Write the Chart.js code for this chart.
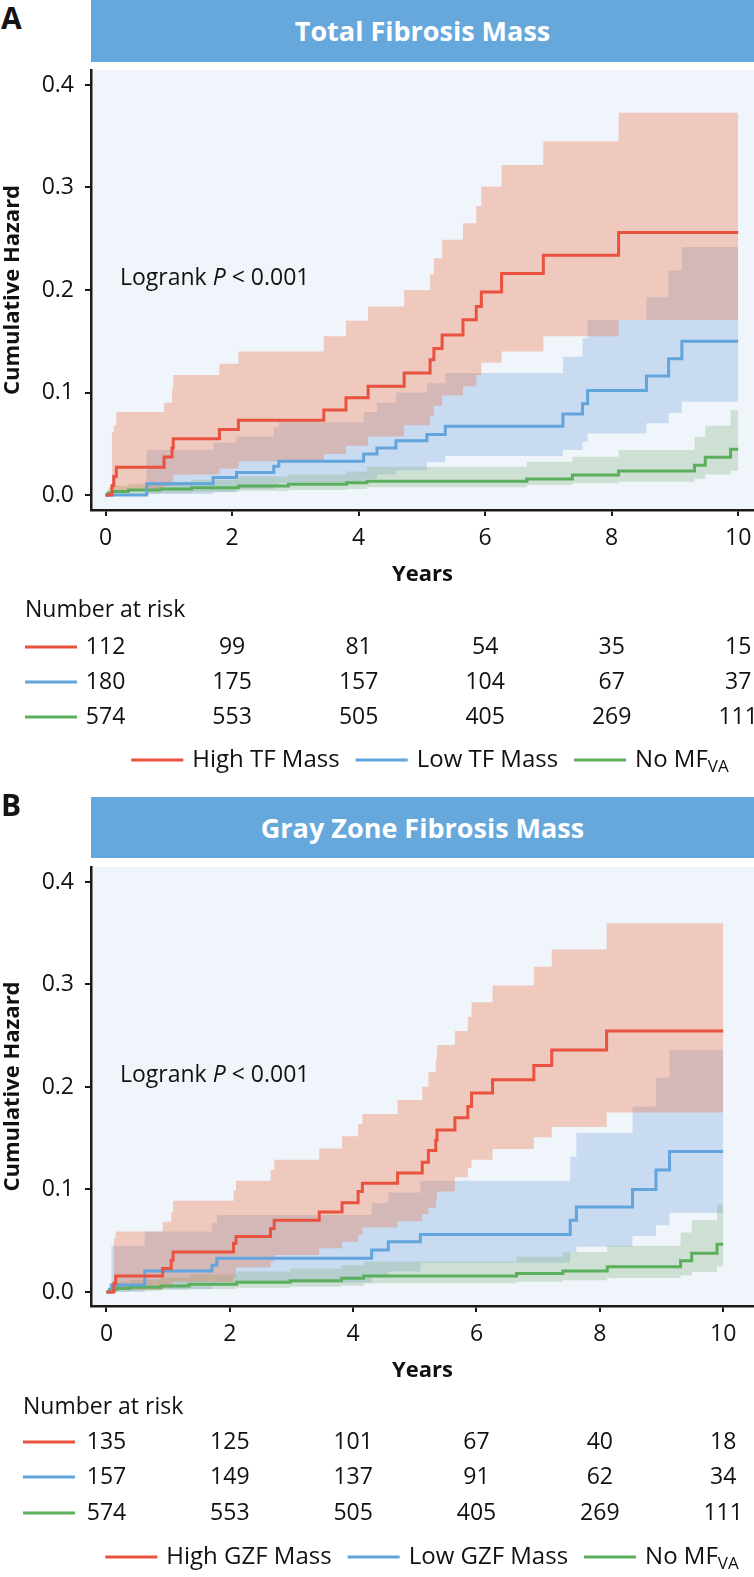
<!DOCTYPE html>
<html>
<head>
<meta charset="utf-8">
<script src="https://cdn.jsdelivr.net/npm/chart.js@4.4.1/dist/chart.umd.min.js"></script>
<style>
  body { margin: 0; background: #fff; font-family: "Open Sans", sans-serif; }
  #page { position: relative; width: 754px; height: 1577px; overflow: hidden; }
  .band { position: absolute; left: 91px; width: 663px; background: #67a8dc; color: #fff;
          font-weight: bold; font-size: 27px; text-align: center; }
  .tag { position: absolute; left: 1px; font-weight: bold; font-size: 30px; color: #141414; line-height: normal; }
  canvas { position: absolute; left: 0; }
</style>
</head>
<body>
<div id="page">
  <div class="tag" style="top:-3px">A</div>
  <div class="band" style="top:0;height:62px;line-height:62px">Total Fibrosis Mass</div>
  <canvas id="chartA" width="754" height="735" style="top:62px"></canvas>
  <div class="tag" style="top:784px">B</div>
  <div class="band" style="top:797px;height:61px;line-height:61px">Gray Zone Fibrosis Mass</div>
  <canvas id="chartB" width="754" height="719" style="top:858px"></canvas>
</div>
<script>
// tick labels
const xTicks = [0, 2, 4, 6, 8, 10];
const yTicks = [0, 0.1, 0.2, 0.3, 0.4];

// Panel A - total fibrosis mass
const aHighTime  = [0, 0.1, 0.13, 0.17, 0.925, 1.05, 1.07, 1.8, 2.1, 3.45, 3.8, 4.15, 4.72, 5.13, 5.19, 5.32, 5.65, 5.86, 5.94, 6.26, 6.92, 8.11, 10];
const aHighHaz   = [0, 0.009, 0.018, 0.027, 0.037, 0.046, 0.055, 0.064, 0.073, 0.083, 0.095, 0.106, 0.119, 0.132, 0.143, 0.156, 0.171, 0.184, 0.198, 0.216, 0.234, 0.256, 0.256];
const aHighUpper = [0, 0.061, 0.068, 0.081, 0.090, 0.104, 0.117, 0.128, 0.140, 0.155, 0.170, 0.184, 0.200, 0.215, 0.231, 0.249, 0.265, 0.282, 0.301, 0.322, 0.345, 0.373, 0.373];
const aHighLower = [0, 0.001, 0.003, 0.005, 0.009, 0.014, 0.020, 0.026, 0.033, 0.040, 0.048, 0.057, 0.068, 0.077, 0.087, 0.097, 0.106, 0.117, 0.129, 0.140, 0.155, 0.171, 0.171];

const aLowTime  = [0, 0.65, 1.7, 2.07, 2.66, 2.74, 4.08, 4.29, 4.59, 5.08, 5.37, 7.23, 7.54, 7.62, 8.55, 8.9, 9.11, 10];
const aLowHaz   = [0, 0.011, 0.017, 0.022, 0.028, 0.033, 0.040, 0.046, 0.053, 0.059, 0.067, 0.079, 0.089, 0.102, 0.116, 0.133, 0.150, 0.150];
const aLowUpper = [0, 0.044, 0.051, 0.057, 0.066, 0.071, 0.081, 0.090, 0.100, 0.109, 0.119, 0.135, 0.153, 0.171, 0.193, 0.219, 0.242, 0.242];
const aLowLower = [0, 0.001, 0.003, 0.006, 0.009, 0.012, 0.016, 0.020, 0.024, 0.032, 0.038, 0.044, 0.052, 0.060, 0.070, 0.080, 0.091, 0.091];

const aNoneTime  = [0, 0.04, 0.1, 0.36, 0.86, 1.36, 2.1, 2.89, 3.81, 4.13, 6.66, 7.38, 8.11, 9.31, 9.48, 9.88, 10];
const aNoneHaz   = [0, 0.002, 0.0035, 0.005, 0.006, 0.0072, 0.0088, 0.0104, 0.012, 0.0135, 0.0156, 0.0195, 0.0234, 0.029, 0.0368, 0.0446, 0.0446];
const aNoneUpper = [0, 0.007, 0.009, 0.011, 0.013, 0.015, 0.018, 0.020, 0.023, 0.0275, 0.0325, 0.0374, 0.044, 0.0566, 0.0676, 0.083, 0.083];
const aNoneLower = [0, 0, 0.0005, 0.001, 0.002, 0.003, 0.004, 0.005, 0.006, 0.0075, 0.0098, 0.0114, 0.013, 0.016, 0.020, 0.0237, 0.0237];

const aRiskHigh = [112, 99, 81, 54, 35, 15];
const aRiskLow  = [180, 175, 157, 104, 67, 37];
const aRiskNone = [574, 553, 505, 405, 269, 111];
const aNames = ['High TF Mass', 'Low TF Mass', 'No MF'];

// Panel B - gray zone fibrosis mass
const bHighTime  = [0, 0.12, 0.15, 0.91, 1.05, 1.08, 2.06, 2.1, 2.66, 2.72, 3.45, 3.82, 4.08, 4.15, 4.72, 5.12, 5.22, 5.34, 5.36, 5.65, 5.86, 5.92, 6.26, 6.93, 7.22, 8.11, 10];
const bHighHaz   = [0, 0.0085, 0.0156, 0.023, 0.031, 0.039, 0.0475, 0.054, 0.062, 0.070, 0.078, 0.087, 0.098, 0.106, 0.116, 0.1265, 0.138, 0.148, 0.158, 0.170, 0.181, 0.194, 0.207, 0.221, 0.236, 0.2546, 0.2546];
const bHighUpper = [0, 0.052, 0.059, 0.0686, 0.078, 0.089, 0.099, 0.1086, 0.119, 0.129, 0.140, 0.152, 0.1636, 0.1737, 0.1873, 0.2003, 0.2143, 0.2273, 0.241, 0.2546, 0.2686, 0.2826, 0.299, 0.3174, 0.334, 0.3597, 0.3597];
const bHighLower = [0, 0.001, 0.002, 0.004, 0.007, 0.010, 0.014, 0.024, 0.030, 0.036, 0.0426, 0.049, 0.0556, 0.063, 0.069, 0.076, 0.082, 0.090, 0.098, 0.112, 0.121, 0.129, 0.1395, 0.151, 0.161, 0.175, 0.175];

const bLowTime  = [0, 0.08, 0.62, 1.71, 1.79, 4.3, 4.57, 5.09, 7.52, 7.62, 8.53, 8.91, 9.13, 10];
const bLowHaz   = [0, 0.0068, 0.0205, 0.026, 0.033, 0.041, 0.049, 0.056, 0.070, 0.083, 0.100, 0.119, 0.137, 0.137];
const bLowUpper = [0, 0.045, 0.059, 0.067, 0.075, 0.0865, 0.097, 0.1086, 0.132, 0.155, 0.181, 0.209, 0.236, 0.236];
const bLowLower = [0, 0, 0.003, 0.006, 0.009, 0.014, 0.020, 0.0286, 0.039, 0.044, 0.0546, 0.065, 0.077, 0.077];

const bNoneTime  = [0, 0.05, 0.17, 0.38, 0.88, 1.34, 2.11, 2.98, 3.81, 4.17, 6.65, 7.4, 8.12, 9.31, 9.49, 9.9, 10];
const bNoneHaz   = [0, 0.0026, 0.0036, 0.0046, 0.0058, 0.0075, 0.0094, 0.011, 0.0133, 0.0156, 0.018, 0.0205, 0.0247, 0.0305, 0.0377, 0.0465, 0.0465];
const bNoneUpper = [0, 0.008, 0.010, 0.012, 0.014, 0.017, 0.020, 0.023, 0.026, 0.0296, 0.0344, 0.039, 0.045, 0.058, 0.070, 0.085, 0.085];
const bNoneLower = [0, 0, 0.0005, 0.001, 0.002, 0.003, 0.004, 0.005, 0.006, 0.0085, 0.010, 0.0114, 0.0137, 0.016, 0.0195, 0.025, 0.025];

const bRiskHigh = [135, 125, 101, 67, 40, 18];
const bRiskLow  = [157, 149, 137, 91, 62, 34];
const bRiskNone = [574, 553, 505, 405, 269, 111];
const bNames = ['High GZF Mass', 'Low GZF Mass', 'No MF'];

const family = '"Open Sans", "DejaVu Sans", sans-serif';
const ink = '#111111';
const redLine = '#e8523e', blueLine = '#62a4dc', greenLine = '#5aae5c';
const redBand = 'rgba(237,98,51,0.3)', blueBand = 'rgba(113,158,218,0.3)', greenBand = 'rgba(130,175,118,0.3)';

function pts(t, v) {
    return t.map((x, i) => ({x: x, y: v[i]}));
}

// upper + lower bound, filled between them
function bandSets(t, up, lo, color, order) {
    return [
        {data: pts(t, up), borderWidth: 0, borderColor: 'transparent', pointRadius: 0, stepped: true, fill: false, order: order},
        {data: pts(t, lo), borderWidth: 0, borderColor: 'transparent', pointRadius: 0, stepped: true, fill: '-1', backgroundColor: color, order: order}
    ];
}

function lineSet(t, v, color, order) {
    return {data: pts(t, v), borderColor: color, borderWidth: 3, pointRadius: 0, stepped: true, fill: false, order: order};
}

const plotBg = {
    id: 'plotBg',
    beforeDraw(chart) {
        const a = chart.chartArea;
        const ctx = chart.ctx;
        ctx.save();
        ctx.fillStyle = '#f0f5fb';
        ctx.fillRect(a.left, a.top, a.right - a.left, a.bottom - a.top);
        ctx.restore();
    }
};

function drawLegend(ctx, names, colors, cx, y) {
    const main = '500 24px ' + family, sub = '500 17px ' + family;
    const lineLen = 52, gapText = 9, gapItem = 16;
    const widths = names.map((n, i) => {
        ctx.font = main;
        let w = ctx.measureText(n).width;
        if (i === 2) { ctx.font = sub; w += ctx.measureText('VA').width; }
        return w;
    });
    let total = 0;
    widths.forEach(w => { total += lineLen + gapText + w; });
    total += gapItem * (names.length - 1);
    let x = cx - total / 2;
    names.forEach((n, i) => {
        ctx.strokeStyle = colors[i];
        ctx.lineWidth = 3;
        ctx.beginPath(); ctx.moveTo(x, y); ctx.lineTo(x + lineLen, y); ctx.stroke();
        x += lineLen + gapText;
        ctx.font = main;
        ctx.fillStyle = ink;
        ctx.textAlign = 'left';
        ctx.textBaseline = 'middle';
        ctx.fillText(n, x, y);
        if (i === 2) {
            const w = ctx.measureText(n).width;
            ctx.font = sub;
            ctx.fillText('VA', x + w, y + 7);
        }
        x += widths[i] + gapItem;
    });
}

function makePanel(id, p) {
    const riskPlugin = {
        id: 'riskTable',
        afterDraw(chart) {
            const ctx = chart.ctx;
            const xs = chart.scales.x;
            ctx.save();
            // logrank note
            ctx.fillStyle = ink;
            ctx.textBaseline = 'middle';
            ctx.textAlign = 'left';
            let lx = 120;
            ctx.font = '500 23px ' + family;
            ctx.fillText('Logrank ', lx, p.noteY);
            lx += ctx.measureText('Logrank ').width;
            ctx.font = 'italic 500 23px ' + family;
            ctx.fillText('P', lx, p.noteY);
            lx += ctx.measureText('P').width;
            ctx.font = '500 23px ' + family;
            ctx.fillText(' < 0.001', lx, p.noteY);

            // number at risk
            ctx.fillText('Number at risk', p.tableX, p.tableY);
            const rows = [p.riskHigh, p.riskLow, p.riskNone];
            const colors = [redLine, blueLine, greenLine];
            rows.forEach((row, r) => {
                const y = p.rowY[r];
                ctx.strokeStyle = colors[r];
                ctx.lineWidth = 3;
                ctx.beginPath(); ctx.moveTo(p.tableX, y); ctx.lineTo(p.tableX + 52, y); ctx.stroke();
                ctx.textAlign = 'center';
                ctx.fillStyle = ink;
                row.forEach((n, j) => ctx.fillText(String(n), xs.getPixelForValue(xTicks[j]), y));
            });
            drawLegend(ctx, p.names, colors, p.legendX, p.legendY);
            ctx.restore();
        }
    };

    const axisGrid = {drawOnChartArea: false, drawTicks: true, tickLength: 6, color: '#1a1a1a', lineWidth: 2};
    const axisBorder = {display: true, color: '#1a1a1a', width: 2.5};

    new Chart(document.getElementById(id), {
        type: 'line',
        data: {
            datasets: [
                ...bandSets(p.low[0], p.low[2], p.low[3], blueBand, 6),
                ...bandSets(p.none[0], p.none[2], p.none[3], greenBand, 5),
                ...bandSets(p.high[0], p.high[2], p.high[3], redBand, 4),
                lineSet(p.none[0], p.none[1], greenLine, 3),
                lineSet(p.low[0], p.low[1], blueLine, 2),
                lineSet(p.high[0], p.high[1], redLine, 1)
            ]
        },
        options: {
            responsive: false,
            animation: false,
            devicePixelRatio: 1,
            layout: {padding: {top: p.padTop, bottom: p.padBottom, left: 0, right: 0}},
            plugins: {legend: {display: false}, tooltip: {enabled: false}},
            scales: {
                x: {
                    type: 'linear',
                    min: p.xMin,
                    max: p.xMax,
                    afterBuildTicks: s => { s.ticks = xTicks.map(v => ({value: v})); },
                    afterFit: s => { s.height = 78; s.paddingLeft = 0; s.paddingRight = 0; },
                    grid: axisGrid,
                    border: axisBorder,
                    ticks: {color: ink, font: {size: 23, weight: 500, family: family}, padding: 9, maxRotation: 0, autoSkip: false,
                            callback: v => String(v)},
                    title: {display: true, text: 'Years', color: ink, font: {size: 22, weight: 'bold', family: family}, padding: 0}
                },
                y: {
                    min: p.yMin,
                    max: p.yMax,
                    afterBuildTicks: s => { s.ticks = yTicks.map(v => ({value: v})); },
                    afterFit: s => { s.width = 91; s.paddingTop = 0; s.paddingBottom = 0; },
                    grid: axisGrid,
                    border: axisBorder,
                    ticks: {color: ink, font: {size: 23, weight: 500, family: family}, padding: 11, callback: v => v.toFixed(1)},
                    title: {display: true, text: 'Cumulative Hazard', color: ink, font: {size: 22, weight: 'bold', family: family}, padding: 0}
                }
            }
        },
        plugins: [plotBg, riskPlugin]
    });
}

makePanel('chartA', {
    high: [aHighTime, aHighHaz, aHighUpper, aHighLower],
    low: [aLowTime, aLowHaz, aLowUpper, aLowLower],
    none: [aNoneTime, aNoneHaz, aNoneUpper, aNoneLower],
    riskHigh: aRiskHigh, riskLow: aRiskLow, riskNone: aRiskNone, names: aNames,
    xMin: -0.23, xMax: 10.25, yMin: -0.0146, yMax: 0.4146,
    padTop: 8, padBottom: 209,
    noteY: 216, tableX: 25, tableY: 548, rowY: [585, 620, 655], legendX: 430, legendY: 698
});

makePanel('chartB', {
    high: [bHighTime, bHighHaz, bHighUpper, bHighLower],
    low: [bLowTime, bLowHaz, bLowUpper, bLowLower],
    none: [bNoneTime, bNoneHaz, bNoneUpper, bNoneLower],
    riskHigh: bRiskHigh, riskLow: bRiskLow, riskNone: bRiskNone, names: bNames,
    xMin: -0.2513, xMax: 10.5, yMin: -0.0137, yMax: 0.4146,
    padTop: 9, padBottom: 193,
    noteY: 217, tableX: 23, tableY: 549, rowY: [584, 619, 655], legendX: 422, legendY: 699
});
</script>
</body>
</html>
